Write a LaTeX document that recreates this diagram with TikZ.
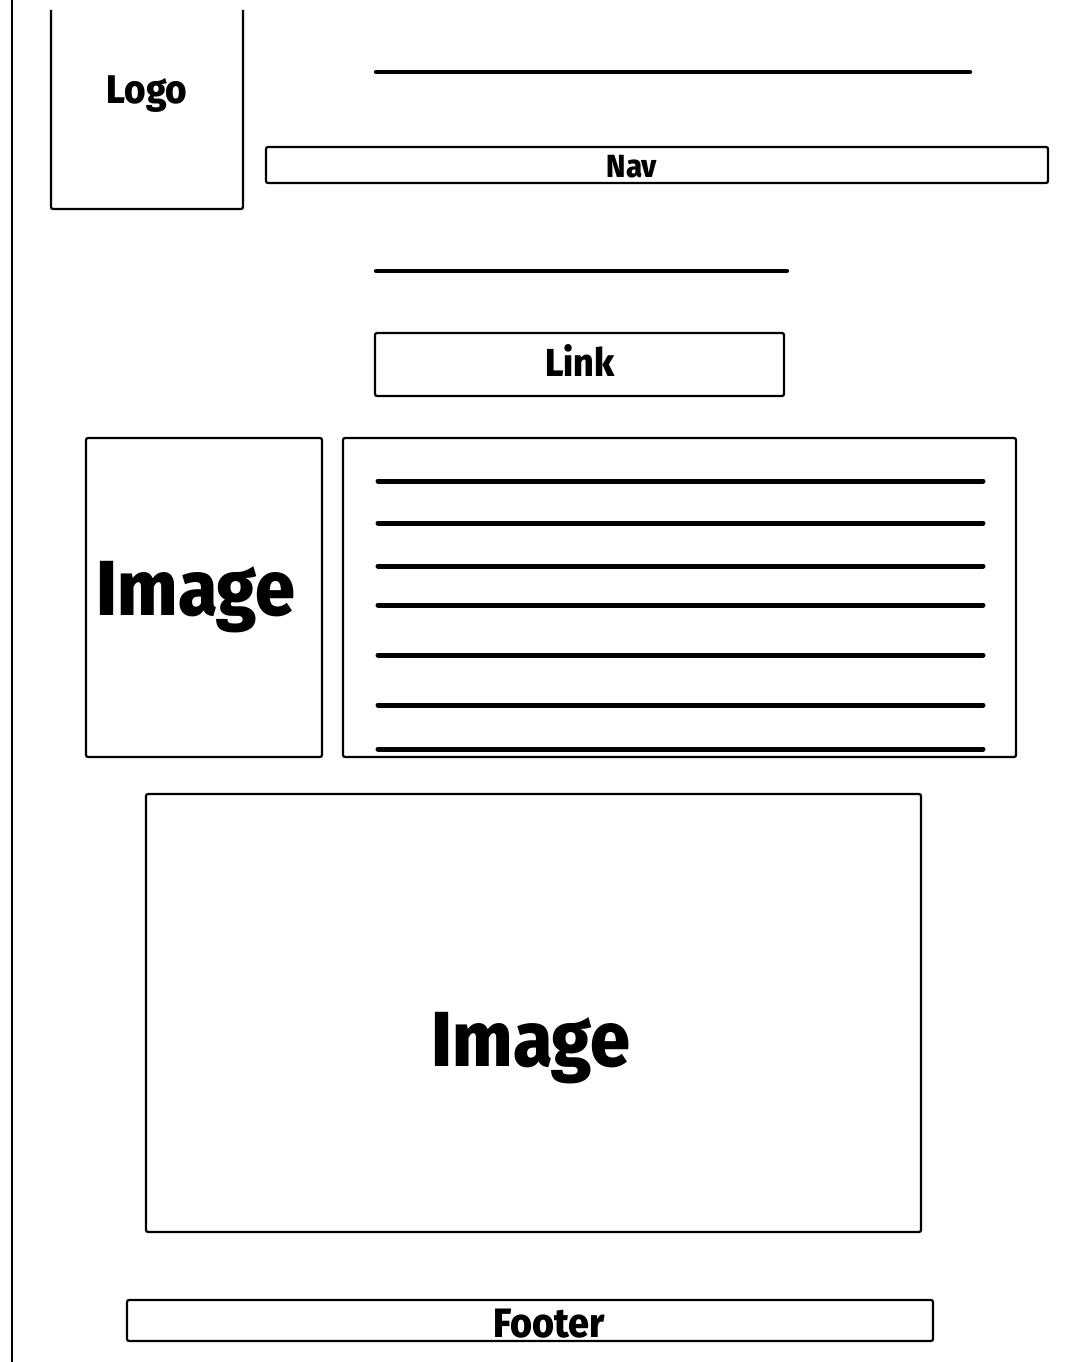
\documentclass[tikz,border=0pt]{standalone}
\usepackage{fontspec}
\setmainfont{Fira Sans}[FakeStretch=0.92, BoldFont={Fira Sans ExtraBold}, BoldFeatures={FakeStretch=0.92}]
\begin{document}
\begin{tikzpicture}[x=1pt,y=-1pt,
  box/.style={draw=black,line width=2.2pt,rounded corners=2pt,fill=white},
  rule/.style={line width=5pt,line cap=round},
  toprule/.style={line width=4.2pt,line cap=round},
  lbl/.style={anchor=base,inner sep=0pt}]
\useasboundingbox (0,0) rectangle (1081,1362);
% left margin line
\coordinate (ml1) at (12,0);
\coordinate (ml2) at (12,1362);
\draw[line width=2.5pt] (ml1) -- (ml2);
% logo box (top open)
\draw[line width=2.2pt,rounded corners=2pt] (51,10) -- (51,209) -- (243,209) -- (243,10);
\node[lbl,font=\bfseries\fontsize{40}{42}\selectfont] (logo) at (147,104) {Logo};
% top rule
\coordinate (t1) at (376,72);
\coordinate (t2) at (970,72);
\draw[toprule] (t1) -- (t2);
% nav
\draw[box] (266,147) rectangle (1048,183);
\node[lbl,font=\bfseries\fontsize{32}{34}\selectfont] (nav) at (632,177) {Nav};
% second rule
\coordinate (s1) at (376,271);
\coordinate (s2) at (787,271);
\draw[toprule] (s1) -- (s2);
% link
\draw[box] (375,333) rectangle (784,396);
\node[lbl,font=\bfseries\fontsize{39}{41}\selectfont] (link) at (580,376) {Link};
% image small
\draw[box] (86,438) rectangle (322,757);
\node[lbl,font=\bfseries\fontsize{78}{80}\selectfont] (img1) at (196,615) {Image};
% text box
\draw[box] (343,438) rectangle (1016,757);
\foreach \yy in {481,523,566,605,655,705,749}
  \draw[rule] (378,\yy) -- (983,\yy);
% big image
\draw[box] (146,794) rectangle (921,1232);
\node[lbl,font=\bfseries\fontsize{78}{80}\selectfont] (img2) at (531,1066) {Image};
% footer
\draw[box] (127,1300) rectangle (933,1341);
\node[lbl,font=\bfseries\fontsize{41}{43}\selectfont] (footer) at (549,1337) {Footer};
\end{tikzpicture}
\end{document}
